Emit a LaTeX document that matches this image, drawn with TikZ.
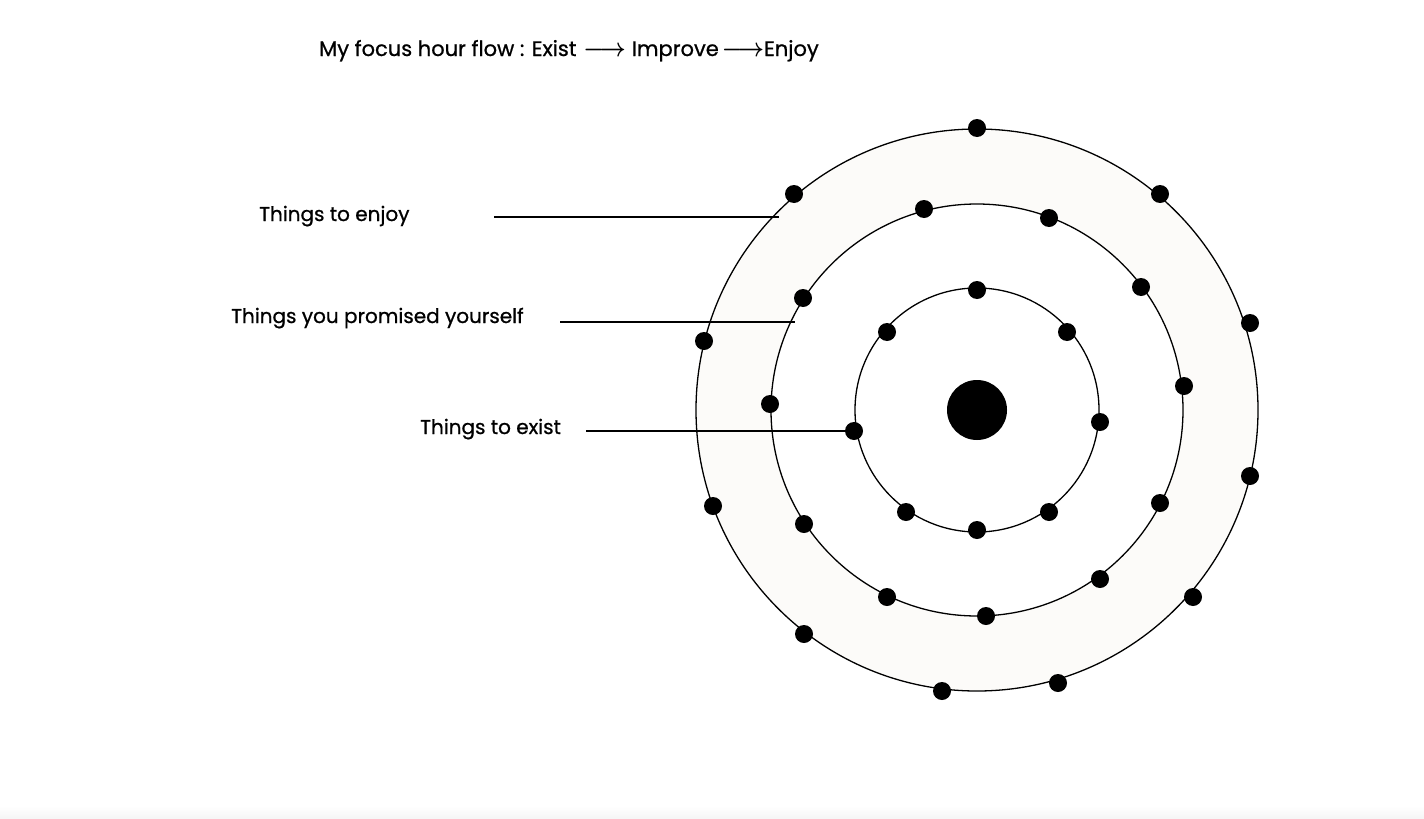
\documentclass[tikz,border=0pt]{standalone}
\usepackage{fontspec}
\usepackage{graphicx}
\setmainfont{Poppins}[FakeBold=0.8]
\definecolor{ringfill}{RGB}{252,251,249}
\newcommand{\flowarrow}{\scalebox{1.1}[1.25]{\boldmath$\longrightarrow$}}
\begin{document}
\begin{tikzpicture}[x=1pt,y=-1pt,
  lbl/.style={anchor=base west,inner sep=0pt,font=\fontsize{20}{24}\selectfont},
  ttl/.style={anchor=base west,inner sep=0pt,font=\fontsize{21}{25}\selectfont},
  orbit/.style={draw=black,line width=1.3pt},
  dot/.style={circle,fill=black,inner sep=0pt,minimum size=18pt},
  leader/.style={draw=black,line width=1.2pt}]
\useasboundingbox (0,0) rectangle (1424,819);
\shade[top color=white,bottom color=black!4] (0,806) rectangle (1424,819);
% ring fill
\fill[ringfill,even odd rule] (977,410) circle[radius=281pt] (977,410) circle[radius=206pt];
\draw[orbit] (977,410) circle[radius=281pt];
\draw[orbit] (977,410) circle[radius=206pt];
\draw[orbit] (977,410) circle[radius=122pt];
\node[circle,fill=black,inner sep=0pt,minimum size=60pt] (core) at (977,410) {};
% outer dots
\foreach \p [count=\i] in {(977,128),(794,194),(1160,194),(704,341),(1250,323),(713,506),(1250,476),(804,634),(1193,597),(942,691),(1058,683)}
  \node[dot] (o\i) at \p {};
% middle dots
\foreach \p [count=\i] in {(924,209),(1049,218),(803,298),(1141,287),(770,404),(1184,386),(804,524),(1160,503),(887,597),(1100,579),(986,616)}
  \node[dot] (m\i) at \p {};
% inner dots
\foreach \p [count=\i] in {(977,290),(887,332),(1067,332),(854,431),(1100,422),(906,512),(1049,512),(977,530)}
  \node[dot] (n\i) at \p {};
% title
\node[ttl] (title) at (319,56) {My focus hour flow : Exist\hspace{7pt}\flowarrow\hspace{6pt}Improve\hspace{3pt}\flowarrow\hspace{0pt}Enjoy};
% labels
\node[lbl] (enjoy) at (259,221) {Things to enjoy};
\node[lbl] (promise) at (231,323) {Things you promised yourself};
\node[lbl] (exist) at (420,434) {Things to exist};
\coordinate (e1) at (494,217);
\coordinate (e2) at (779,217);
\coordinate (p1) at (560,322);
\coordinate (p2) at (795,322);
\coordinate (x1) at (586,431);
\draw[leader] (e1) -- (e2);
\draw[leader] (p1) -- (p2);
\draw[leader] (x1) -- (n4);
\end{tikzpicture}
\end{document}
